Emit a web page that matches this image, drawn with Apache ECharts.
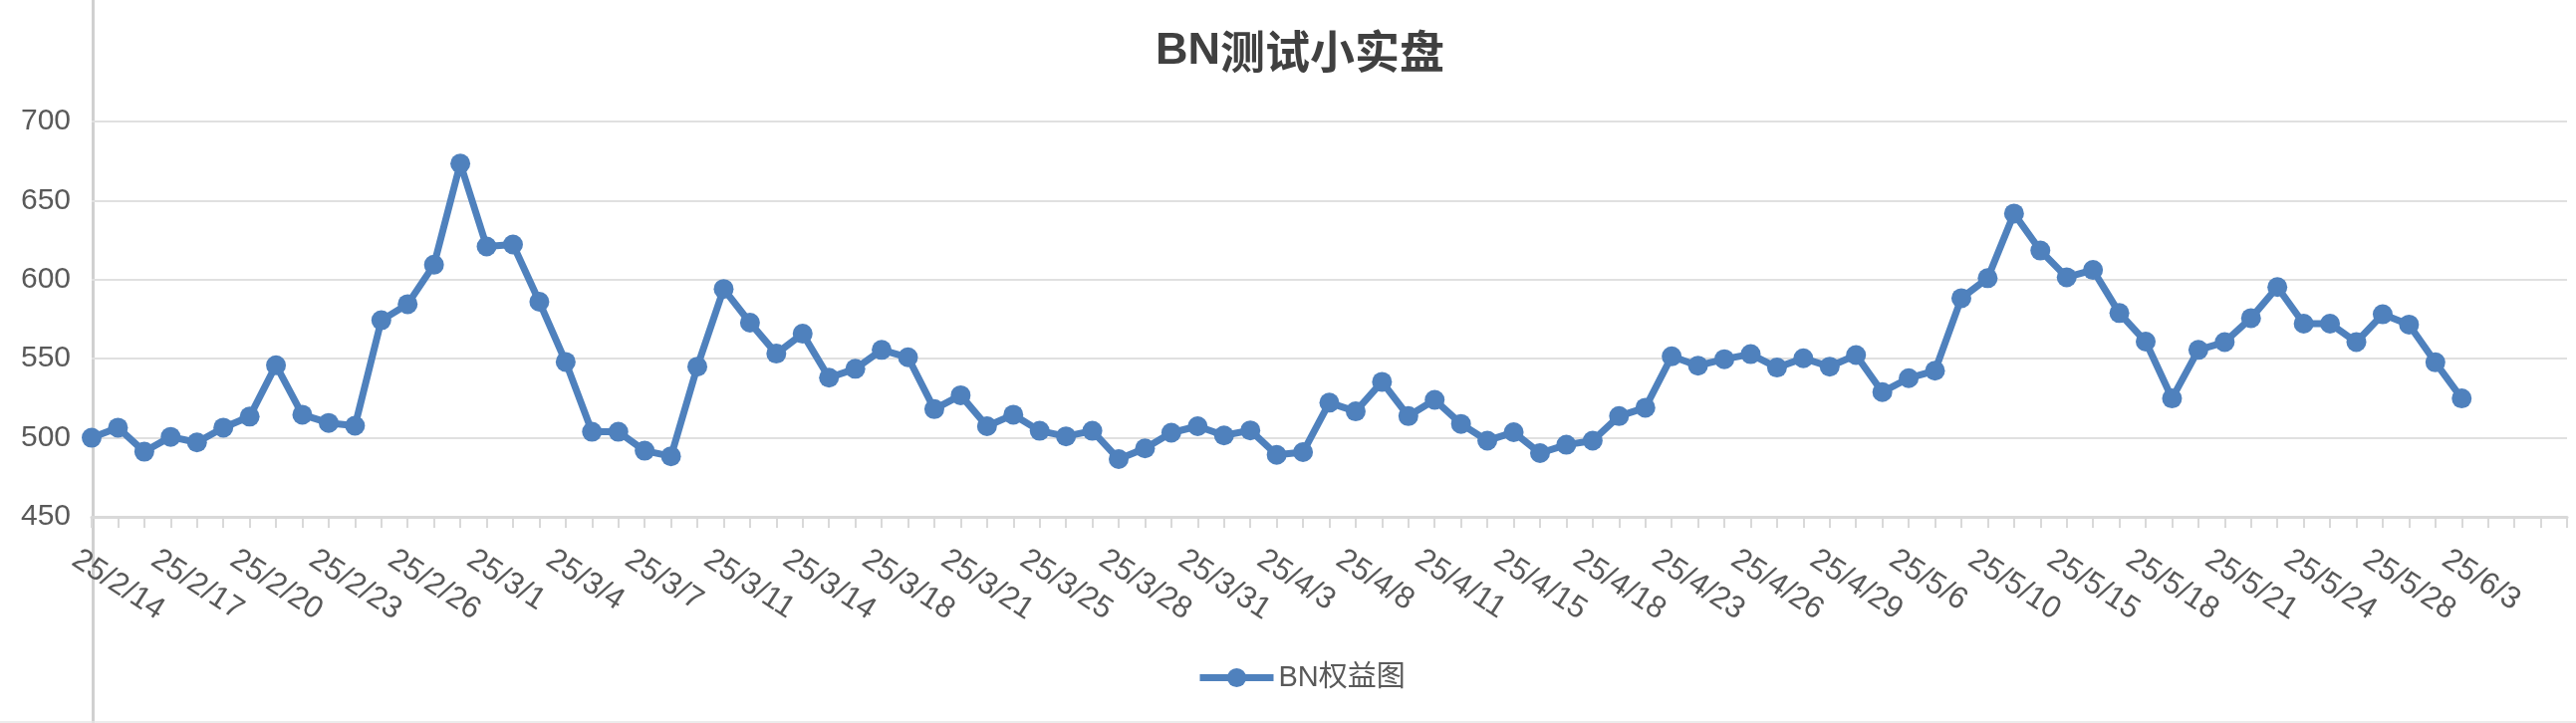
<!DOCTYPE html>
<html>
<head>
<meta charset="utf-8">
<title>BN测试小实盘</title>
<script src="https://cdn.jsdelivr.net/npm/echarts@6.0.0/dist/echarts.min.js"></script>
<style>
    html, body { margin: 0; padding: 0; background: #fff; }
    #bn-chart { width: 2586px; height: 726px; }
</style>
</head>
<body>
<div id="bn-chart"></div>
<script>
// 日期（每个交易日一个点）
var dates = [
    '25/2/14', '25/2/15', '25/2/16', '25/2/17', '25/2/18', '25/2/19', '25/2/20', '25/2/21', '25/2/22', '25/2/23',
    '25/2/24', '25/2/25', '25/2/26', '25/2/27', '25/2/28', '25/3/1', '25/3/2', '25/3/3', '25/3/4', '25/3/5',
    '25/3/6', '25/3/7', '25/3/8', '25/3/10', '25/3/11', '25/3/12', '25/3/13', '25/3/14', '25/3/15', '25/3/17',
    '25/3/18', '25/3/19', '25/3/20', '25/3/21', '25/3/22', '25/3/24', '25/3/25', '25/3/26', '25/3/27', '25/3/28',
    '25/3/29', '25/3/30', '25/3/31', '25/4/1', '25/4/2', '25/4/3', '25/4/4', '25/4/7', '25/4/8', '25/4/9',
    '25/4/10', '25/4/11', '25/4/12', '25/4/14', '25/4/15', '25/4/16', '25/4/17', '25/4/18', '25/4/21', '25/4/22',
    '25/4/23', '25/4/24', '25/4/25', '25/4/26', '25/4/27', '25/4/28', '25/4/29', '25/4/30', '25/5/5', '25/5/6',
    '25/5/7', '25/5/8', '25/5/10', '25/5/12', '25/5/14', '25/5/15', '25/5/16', '25/5/17', '25/5/18', '25/5/19',
    '25/5/20', '25/5/21', '25/5/22', '25/5/23', '25/5/24', '25/5/26', '25/5/27', '25/5/28', '25/5/29', '25/6/2',
    '25/6/3'
];
// 表格末尾的空行
var blankRows = ['', '', '', ''];

// BN权益
var equity = [
    500.0, 506.4, 491.2, 500.6, 497.1, 506.4, 513.4, 545.9, 514.6, 509.4,
    507.6, 574.3, 584.5, 609.4, 673.4, 621.0, 622.2, 586.0, 548.0, 503.8,
    503.8, 491.8, 488.3, 545.0, 594.1, 572.8, 553.2, 565.8, 538.0, 543.6,
    555.6, 550.9, 518.1, 526.9, 507.3, 514.6, 504.4, 500.9, 504.4, 486.5,
    493.3, 503.2, 507.3, 501.5, 504.7, 489.2, 490.9, 522.2, 516.7, 535.4,
    513.7, 524.0, 508.8, 498.2, 503.5, 490.3, 495.6, 498.2, 513.7, 519.0,
    551.5, 545.6, 549.7, 552.9, 544.4, 550.3, 545.0, 552.3, 528.9, 537.7,
    542.4, 588.3, 600.9, 641.8, 618.4, 601.5, 606.1, 578.9, 560.8, 524.9,
    555.6, 560.5, 575.7, 595.3, 572.2, 572.2, 560.5, 578.1, 571.6, 547.7,
    524.9
];

// y轴刻度
var yTicks = [450, 500, 550, 600, 650, 700];

var seriesName = 'BN权益图';
var titleMain = 'BN';
var titleRest = '测试小实盘';

var font = "'Liberation Sans', 'Noto Sans CJK SC', sans-serif";
var lineColor = '#4F81BD';

var myChart = echarts.init(document.getElementById('bn-chart'));
var option = {
    backgroundColor: '#fff',
    animation: false,
    title: {
        text: '{b|' + titleMain + '}{c|' + titleRest + '}',
        left: 1155,
        top: 24,
        textStyle: {
            rich: {
                b: { fontFamily: font, fontSize: 45, fontWeight: 'bold', color: '#404040' },
                c: { fontFamily: "'Noto Sans CJK SC', sans-serif", fontSize: 45, fontWeight: 'bold', color: '#404040' }
            }
        }
    },
    legend: {
        left: 1196,
        top: 661,
        itemWidth: 74,
        itemHeight: 24,
        itemGap: 8,
        data: [seriesName],
        lineStyle: { width: 7 },//默认auto会变成2
        textStyle: {
            fontFamily: font,
            fontSize: 29,
            color: '#595959'
        }
    },
    grid: {
        left: 92,
        right: 9,
        top: 122,
        bottom: 207
    },
    xAxis: {
        type: 'category',
        boundaryGap: false,
        data: dates.concat(blankRows),
        axisLine: {
            lineStyle: { color: '#d9d9d9', width: 3 }
        },
        axisTick: {
            show: true,
            interval: 0,
            length: 11,
            lineStyle: { color: '#d9d9d9', width: 2 }
        },
        axisLabel: {
            interval: 2,//每3个显示一个
            rotate: -33,
            margin: 51,
            padding: [0, 0, 0, -20],
            fontFamily: font,
            fontSize: 31,
            color: '#595959'
        },
        splitLine: { show: false }
    },
    yAxis: {
        type: 'value',
        min: yTicks[0],
        max: yTicks[yTicks.length - 1],
        interval: yTicks[1] - yTicks[0],
        axisLine: { show: false },
        axisTick: { show: false },
        axisLabel: {
            margin: 21,
            fontFamily: font,
            fontSize: 30,
            color: '#595959'
        },
        splitLine: {
            lineStyle: { color: '#e0e0e0', width: 2 }
        }
    },
    // 截图里的单元格边框
    graphic: [
        {
            type: 'line',
            z: 0,
            shape: { x1: 93.5, y1: 0, x2: 93.5, y2: 726 },
            style: { stroke: '#d0d0d0', lineWidth: 3 }
        },
        {
            type: 'line',
            z: 0,
            shape: { x1: 0, y1: 725, x2: 2586, y2: 725 },
            style: { stroke: '#e6e6e6', lineWidth: 1.5 }
        }
    ],
    series: [
        {
            name: seriesName,
            type: 'line',
            data: equity,
            symbol: 'circle',
            symbolSize: 20,
            showAllSymbol: true,
            z: 3,
            itemStyle: { color: lineColor },
            lineStyle: { color: lineColor, width: 7 }
        }
    ]
};
myChart.setOption(option);
</script>
</body>
</html>
